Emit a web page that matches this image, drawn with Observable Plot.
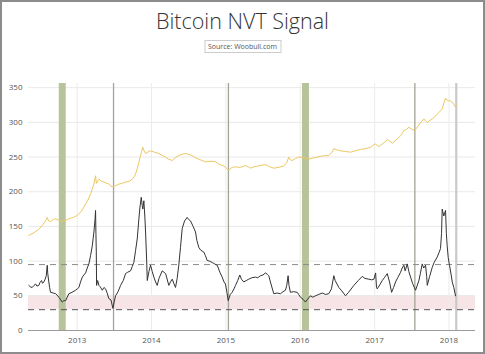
<!DOCTYPE html>
<html>
<head>
<meta charset="utf-8">
<script src="https://cdn.jsdelivr.net/npm/d3@7"></script>
<script src="https://cdn.jsdelivr.net/npm/@observablehq/plot@0.6"></script>
<style>
  html, body { margin: 0; padding: 0; background: #fff; }
  body { width: 485px; height: 354px; position: relative; overflow: hidden; font-family: "Open Sans", sans-serif; }
  #frame { position: absolute; left: 0; top: 0; width: 485px; height: 354px; box-sizing: border-box; border: 2px solid #8c8c8c; pointer-events: none; z-index: 5; }
  #title { position: absolute; top: 6px; left: 0; width: 485px; text-align: center; font-size: 21.5px; font-weight: 300; color: #333; letter-spacing: 0; }
  #source { position: absolute; top: 40px; left: 50%; transform: translateX(-50%); font-size: 7px; color: #555; border: 1px solid #ccc; padding: 1px 3px; line-height: 9px; white-space: nowrap; }
  #chart { position: absolute; top: 60px; left: 0; }
</style>
</head>
<body>
<div id="frame"></div>
<div id="title">Bitcoin NVT Signal</div>
<div id="source">Source: Woobull.com</div>
<div id="chart"></div>
<script>
// Price-like series (gold), [decimal year, value]
const priceSeries = [
  [2012.351,137],[2012.42,141],[2012.485,146],[2012.53,151],[2012.575,158],[2012.598,163],[2012.615,158],[2012.642,157],
  [2012.68,160],[2012.710,161],[2012.75,159],[2012.800,157],[2012.85,159],[2012.888,161],[2012.95,163],[2013.001,166],
  [2013.05,171],[2013.090,178],[2013.14,187],[2013.180,197],[2013.225,211],[2013.247,223],[2013.258,212],[2013.270,214],
  [2013.292,218],[2013.33,215],[2013.359,214],[2013.40,212],[2013.426,211],[2013.455,208],[2013.480,207],[2013.52,209],
  [2013.561,211],[2013.60,212],[2013.651,214],[2013.70,215],[2013.741,218],[2013.78,224],[2013.808,233],[2013.852,252],
  [2013.883,264],[2013.90,259],[2013.920,255],[2013.95,257],[2013.987,259],[2014.04,257],[2014.099,255],[2014.15,252],
  [2014.189,250],[2014.23,247],[2014.279,245],[2014.32,249],[2014.367,252],[2014.41,254],[2014.458,255],[2014.50,254],
  [2014.548,252],[2014.59,249],[2014.636,247],[2014.68,245],[2014.727,243],[2014.80,244],[2014.861,243],[2014.90,240],
  [2014.951,238],[2014.99,236],[2015.032,231],[2015.06,233],[2015.085,235],[2015.13,236],[2015.174,235],[2015.22,236],
  [2015.264,238],[2015.30,236],[2015.332,234],[2015.38,236],[2015.43,237],[2015.48,238],[2015.533,239],[2015.59,236],
  [2015.645,234],[2015.70,235],[2015.779,237],[2015.82,242],[2015.847,250],[2015.870,246],[2015.892,245],[2015.94,248],
  [2015.981,250],[2016.05,249],[2016.116,247],[2016.19,249],[2016.273,251],[2016.33,252],[2016.384,252],[2016.42,256],
  [2016.452,262],[2016.50,260],[2016.542,259],[2016.61,258],[2016.676,257],[2016.74,259],[2016.811,261],[2016.87,262],
  [2016.945,264],[2016.98,267],[2017.013,269],[2017.050,265],[2017.080,267],[2017.13,271],[2017.170,275],[2017.20,273],
  [2017.237,270],[2017.27,273],[2017.304,276],[2017.35,281],[2017.393,288],[2017.43,290],[2017.460,293],[2017.50,290],
  [2017.537,288],[2017.58,294],[2017.618,300],[2017.662,305],[2017.685,302],[2017.708,300],[2017.745,303],[2017.775,305],
  [2017.81,308],[2017.842,312],[2017.88,316],[2017.909,319],[2017.93,327],[2017.954,335],[2017.975,332],[2017.998,331],
  [2018.02,331],[2018.044,329],[2018.065,326],[2018.088,322]
];

// NVT signal series (black), [decimal year, value]
const nvtSeries = [
  [2012.351,65],[2012.37,63],[2012.396,62],[2012.42,65],[2012.441,67],[2012.46,64],[2012.485,65],[2012.50,69],[2012.521,72],
  [2012.535,68],[2012.552,70],[2012.57,74],[2012.585,79],[2012.598,94],[2012.605,82],[2012.619,70],[2012.63,62],[2012.642,55],
  [2012.68,54],[2012.710,53],[2012.73,51],[2012.754,48],[2012.78,44],[2012.800,41],[2012.82,43],[2012.844,43],[2012.866,48],
  [2012.888,53],[2012.93,55],[2012.978,58],[2013.001,60],[2013.023,62],[2013.045,70],[2013.069,77],[2013.09,80],[2013.113,83],
  [2013.135,90],[2013.157,96],[2013.18,108],[2013.203,122],[2013.215,133],[2013.225,142],[2013.24,160],[2013.247,173],
  [2013.252,140],[2013.257,113],[2013.261,65],[2013.275,72],[2013.292,65],[2013.31,63],[2013.338,58],[2013.36,62],
  [2013.382,60],[2013.40,55],[2013.426,46],[2013.455,44],[2013.480,32],[2013.50,42],[2013.516,50],[2013.55,56],
  [2013.584,65],[2013.62,72],[2013.651,82],[2013.68,84],[2013.718,86],[2013.74,92],[2013.762,98],[2013.785,115],
  [2013.808,132],[2013.830,161],[2013.845,178],[2013.862,192],[2013.875,180],[2013.883,175],[2013.897,187],[2013.91,165],
  [2013.920,142],[2013.935,100],[2013.943,72],[2013.965,85],[2013.987,94],[2014.01,85],[2014.031,77],[2014.055,70],
  [2014.077,65],[2014.10,75],[2014.144,86],[2014.19,82],[2014.233,65],[2014.255,70],[2014.279,74],[2014.30,68],
  [2014.323,62],[2014.345,75],[2014.367,94],[2014.39,120],[2014.413,147],[2014.445,158],[2014.480,163],[2014.50,160],
  [2014.525,158],[2014.56,150],[2014.592,142],[2014.61,130],[2014.636,120],[2014.66,116],[2014.704,113],[2014.725,108],
  [2014.749,101],[2014.78,100],[2014.817,98],[2014.85,96],[2014.884,94],[2014.92,84],[2014.951,77],[2014.975,70],
  [2014.995,67],[2015.015,55],[2015.032,43],[2015.06,52],[2015.085,55],[2015.11,60],[2015.130,65],[2015.16,72],
  [2015.188,80],[2015.21,74],[2015.241,70],[2015.275,72],[2015.309,74],[2015.35,76],[2015.399,77],[2015.43,76],
  [2015.466,79],[2015.50,80],[2015.533,83],[2015.56,81],[2015.578,79],[2015.60,70],[2015.645,53],[2015.69,54],
  [2015.735,53],[2015.77,56],[2015.802,58],[2015.82,65],[2015.838,79],[2015.85,65],[2015.869,55],[2015.91,56],
  [2015.960,55],[2015.98,52],[2016.004,48],[2016.04,45],[2016.071,41],[2016.10,45],[2016.138,50],[2016.17,48],
  [2016.205,50],[2016.25,52],[2016.296,54],[2016.34,52],[2016.384,53],[2016.42,60],[2016.452,79],[2016.47,72],
  [2016.519,62],[2016.56,57],[2016.609,50],[2016.65,55],[2016.721,65],[2016.78,72],[2016.834,78],[2016.87,75],
  [2016.922,74],[2016.96,73],[2016.990,74],[2017.005,80],[2017.013,83],[2017.025,62],[2017.035,60],[2017.07,66],
  [2017.102,72],[2017.13,76],[2017.170,82],[2017.20,70],[2017.228,55],[2017.255,62],[2017.281,70],[2017.31,76],
  [2017.349,84],[2017.37,90],[2017.393,94],[2017.41,86],[2017.439,96],[2017.46,85],[2017.483,77],[2017.51,68],
  [2017.550,58],[2017.57,64],[2017.595,72],[2017.615,82],[2017.640,96],[2017.66,90],[2017.685,94],[2017.70,78],
  [2017.708,65],[2017.74,78],[2017.775,91],[2017.80,98],[2017.842,106],[2017.865,112],[2017.886,118],[2017.90,140],
  [2017.909,175],[2017.93,165],[2017.954,173],[2017.965,140],[2017.976,122],[2017.99,105],[2018.007,94],[2018.03,80],
  [2018.044,70],[2018.065,62],[2018.088,50]
];

// Highlighted periods and event lines
const greenBands = [[2012.759, 2012.853], [2016.031, 2016.125]];
const eventLines = [2013.489, 2015.035, 2017.541];
const lastLine = [2018.098];
const dashedLevels = [95, 30];
const pinkZone = [[30, 50]];
const yTicks = [0, 50, 100, 150, 200, 250, 300, 350];
const xTickYears = [2013, 2014, 2015, 2016, 2017, 2018];
const xDomainYears = [2012.3465, 2018.357];

const toDate = y => {
  const yr = Math.floor(y);
  const s = Date.UTC(yr, 0, 1), e = Date.UTC(yr + 1, 0, 1);
  return new Date(s + (y - yr) * (e - s));
};

const price = priceSeries.map(([t, v]) => ({date: toDate(t), value: v}));
const nvt = nvtSeries.map(([t, v]) => ({date: toDate(t), value: v}));
const bands = greenBands.map(([a, b]) => ({x1: toDate(a), x2: toDate(b)}));
const xTicks = xTickYears.map(y => new Date(Date.UTC(y, 0, 1)));

const chart = Plot.plot({
  width: 485,
  height: 290,
  marginTop: 23,
  marginBottom: 20,
  marginLeft: 28,
  marginRight: 10,
  style: {fontFamily: "'Open Sans', sans-serif", fontSize: "8px", color: "#555", background: "transparent"},
  x: {type: "utc", domain: xDomainYears.map(toDate), ticks: xTicks, tickFormat: d3.utcFormat("%Y"), tickSize: 0, tickPadding: 7, label: null},
  y: {domain: [0, 356], ticks: yTicks, tickSize: 0, tickPadding: 6, label: null},
  marks: [
    Plot.rect(pinkZone, {y1: d => d[0], y2: d => d[1], fill: "#f6e4e7"}),
    Plot.gridY(yTicks, {stroke: "#e9e9e9", strokeOpacity: 1}),
    Plot.gridX(xTicks, {stroke: "#ececec", strokeOpacity: 1}),
    Plot.rect(bands, {x1: "x1", x2: "x2", fill: "#b7c49b"}),
    Plot.ruleX(eventLines.map(toDate), {stroke: "#a3a396", strokeWidth: 1.3}),
    Plot.ruleX(lastLine.map(toDate), {stroke: "#c9c9c9", strokeWidth: 2.2}),
    Plot.ruleY(dashedLevels.slice(0, 1), {stroke: "#8a8a8a", strokeDasharray: "6,5"}),
    Plot.ruleY(dashedLevels.slice(1), {stroke: "#555", strokeDasharray: "6,5"}),
    Plot.ruleY([0], {stroke: "#9a9a9a"}),
    Plot.line(price, {x: "date", y: "value", stroke: "#ecc760", strokeWidth: 1}),
    Plot.line(nvt, {x: "date", y: "value", stroke: "#333", strokeWidth: 1}),
    Plot.axisY({ticks: yTicks, tickSize: 0, tickPadding: 6, label: null}),
    Plot.axisX({ticks: xTicks, tickFormat: d3.utcFormat("%Y"), tickSize: 0, tickPadding: 7, label: null})
  ]
});
document.getElementById("chart").appendChild(chart);
</script>
</body>
</html>
